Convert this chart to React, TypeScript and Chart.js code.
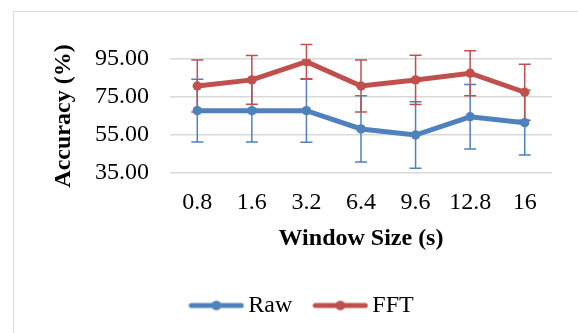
import React, { useEffect, useRef } from "react";
import { Chart, registerables } from "chart.js";

Chart.register(...registerables);

const categories = ["0.8", "1.6", "3.2", "6.4", "9.6", "12.8", "16"];
const rawValues = [67.8, 67.8, 67.8, 58.2, 55.0, 64.6, 61.5];
const rawErrors = [16.5, 16.5, 16.6, 17.4, 17.5, 17.0, 17.0];
const fftValues = [80.8, 84.0, 93.6, 80.8, 84.0, 87.5, 77.5];
const fftErrors = [13.7, 12.8, 9.0, 13.7, 13.0, 11.8, 14.7];
const yTicks = [35, 55, 75, 95];

const BLUE = "#4F81BD";
const RED = "#C0504D";
const SERIF = "'Liberation Serif', 'Times New Roman', serif";

function legendImage(color: string): HTMLCanvasElement {
  const c = document.createElement("canvas");
  c.width = 56;
  c.height = 12;
  const g = c.getContext("2d")!;
  g.strokeStyle = color;
  g.lineWidth = 5;
  g.lineCap = "round";
  g.beginPath();
  g.moveTo(3, 6);
  g.lineTo(53, 6);
  g.stroke();
  g.fillStyle = color;
  g.beginPath();
  g.arc(28, 6, 4.8, 0, Math.PI * 2);
  g.fill();
  return c;
}

const errorBarPlugin = {
  id: "errorBars",
  beforeDatasetsDraw(chart: any) {
    const ctx = chart.ctx;
    const y = chart.scales.y;
    const sets = [
      { values: rawValues, errors: rawErrors, color: BLUE, idx: 0 },
      { values: fftValues, errors: fftErrors, color: RED, idx: 1 },
    ];
    ctx.save();
    ctx.lineWidth = 1.5;
    for (const s of sets) {
      const meta = chart.getDatasetMeta(s.idx);
      ctx.strokeStyle = s.color;
      meta.data.forEach((pt: any, i: number) => {
        const x = pt.x;
        const top = y.getPixelForValue(s.values[i] + s.errors[i]);
        const bot = y.getPixelForValue(s.values[i] - s.errors[i]);
        ctx.beginPath();
        ctx.moveTo(x, top);
        ctx.lineTo(x, bot);
        ctx.moveTo(x - 6, top);
        ctx.lineTo(x + 6, top);
        ctx.moveTo(x - 6, bot);
        ctx.lineTo(x + 6, bot);
        ctx.stroke();
      });
    }
    ctx.restore();
  },
};

const legendShiftPlugin = {
  id: "legendShift",
  afterLayout(chart: any) {
    if (chart.legend) {
      chart.legend.left += 29;
      chart.legend.right += 29;
    }
  },
};

export default function App() {
  const ref = useRef<HTMLCanvasElement>(null);
  useEffect(() => {
    if (!ref.current) return;
    const chart = new Chart(ref.current, {
      type: "line",
      data: {
        labels: categories,
        datasets: [
          {
            label: "Raw",
            data: rawValues,
            borderColor: BLUE,
            backgroundColor: BLUE,
            borderWidth: 5,
            pointRadius: 4.7,
            pointBorderWidth: 0,
            pointBackgroundColor: BLUE,
            pointStyle: "circle",
            tension: 0,
          },
          {
            label: "FFT",
            data: fftValues,
            borderColor: RED,
            backgroundColor: RED,
            borderWidth: 5,
            pointRadius: 4.7,
            pointBorderWidth: 0,
            pointBackgroundColor: RED,
            pointStyle: "circle",
            tension: 0,
          },
        ],
      },
      options: {
        animation: false,
        responsive: false,
        maintainAspectRatio: false,
        layout: { padding: { left: 0, right: 26, top: 59, bottom: 5.5 } },
        scales: {
          x: {
            offset: true,
            grid: { display: false, drawTicks: false },
            border: { display: false },
            ticks: {
              color: "#000",
              font: { family: SERIF, size: 24 },
              padding: 15,
              maxRotation: 0,
            },
            title: {
              display: true,
              text: "Window Size (s)",
              color: "#000",
              font: { family: SERIF, size: 24, weight: "bold" },
              padding: { top: 0, bottom: 12 },
            },
            afterFit: (s: any) => {
              s.height = 92.5;
            },
          },
          y: {
            min: 35,
            max: 95,
            afterBuildTicks: (s: any) => {
              s.ticks = yTicks.map((v) => ({ value: v }));
            },
            grid: { color: "#d9d9d9", lineWidth: 1.5, drawTicks: false },
            border: { display: false },
            ticks: {
              color: "#000",
              font: { family: SERIF, size: 24 },
              padding: 21,
              callback: (v: any) => Number(v).toFixed(2),
            },
            title: {
              display: true,
              text: "Accuracy (%)",
              color: "#000",
              font: { family: SERIF, size: 24, weight: "bold" },
              padding: { top: 49, bottom: 0 },
            },
            afterFit: (s: any) => {
              s.width = 170;
            },
          },
        },
        plugins: {
          legend: {
            position: "bottom",
            labels: {
              color: "#000",
              font: { family: SERIF, size: 24 },
              usePointStyle: true,
              pointStyleWidth: 40,
              padding: 28,
              generateLabels: (chart: any) =>
                chart.data.datasets.map((d: any, i: number) => ({
                  text: d.label,
                  fillStyle: d.borderColor,
                  strokeStyle: d.borderColor,
                  lineWidth: 0,
                  pointStyle: legendImage(d.borderColor),
                  datasetIndex: i,
                  hidden: false,
                  fontColor: "#000",
                })),
            },
          },
          tooltip: { enabled: false },
        },
      },
      plugins: [errorBarPlugin, legendShiftPlugin],
    });
    return () => chart.destroy();
  }, []);

  return (
    <div
      style={{
        position: "fixed",
        left: 0,
        top: 0,
        width: 578,
        height: 333,
        overflow: "hidden",
        background: "#fff",
      }}
    >
      <div
        style={{
          position: "absolute",
          left: 13,
          top: 11,
          width: 700,
          height: 500,
          border: "1px solid #d9d9d9",
        }}
      />
      <canvas
        ref={ref}
        width={578}
        height={333}
        style={{ position: "absolute", left: 0, top: 0, width: 578, height: 333 }}
      />
    </div>
  );
}
